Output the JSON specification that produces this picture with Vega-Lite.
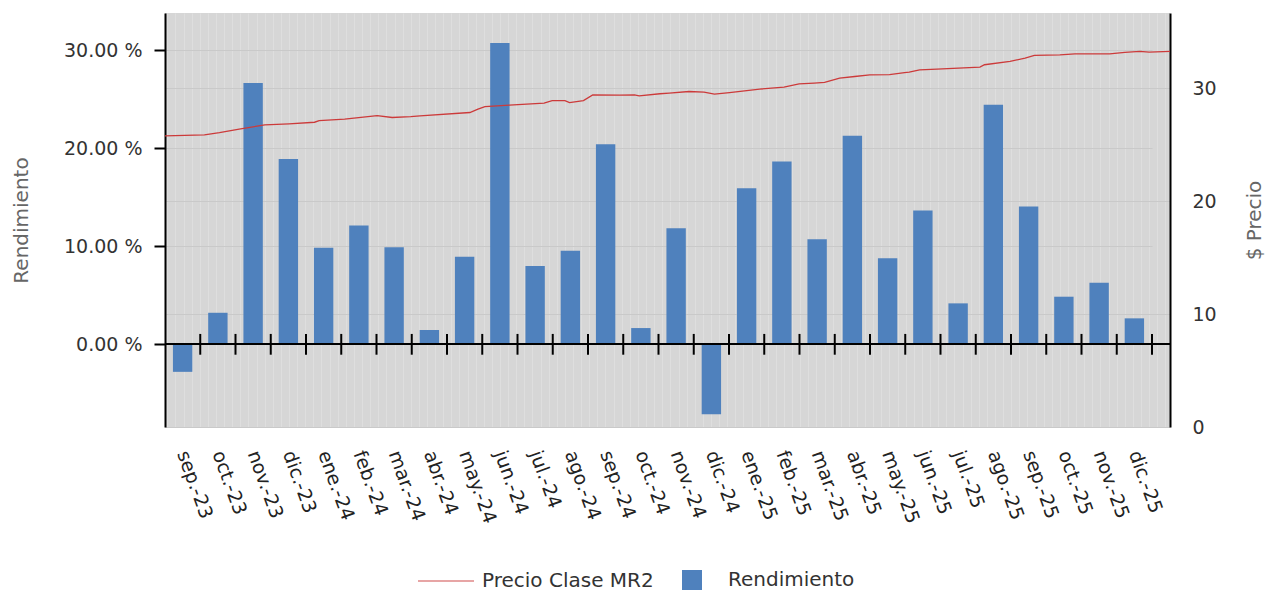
{
  "$schema": "https://vega.github.io/schema/vega-lite/v6.json",
  "width": 1005,
  "height": 414,
  "autosize": {"type": "none"},
  "padding": {"left": 165, "top": 13, "right": 98, "bottom": 164},
  "background": "white",
  "config": {
    "font": "DejaVu Sans",
    "view": {"fill": "#d6d6d6", "stroke": null}
  },
  "datasets": {
    "rend": [
      {"mes": "sep.-23", "rend": -0.0283},
      {"mes": "oct.-23", "rend": 0.032},
      {"mes": "nov.-23", "rend": 0.2665},
      {"mes": "dic.-23", "rend": 0.189},
      {"mes": "ene.-24", "rend": 0.0985},
      {"mes": "feb.-24", "rend": 0.121},
      {"mes": "mar.-24", "rend": 0.099},
      {"mes": "abr.-24", "rend": 0.0143},
      {"mes": "may.-24", "rend": 0.0893},
      {"mes": "jun.-24", "rend": 0.3075},
      {"mes": "jul.-24", "rend": 0.0798},
      {"mes": "ago.-24", "rend": 0.0954},
      {"mes": "sep.-24", "rend": 0.204},
      {"mes": "oct.-24", "rend": 0.0164},
      {"mes": "nov.-24", "rend": 0.1183},
      {"mes": "dic.-24", "rend": -0.0716},
      {"mes": "ene.-25", "rend": 0.1592},
      {"mes": "feb.-25", "rend": 0.1864},
      {"mes": "mar.-25", "rend": 0.107},
      {"mes": "abr.-25", "rend": 0.2127},
      {"mes": "may.-25", "rend": 0.0876},
      {"mes": "jun.-25", "rend": 0.1363},
      {"mes": "jul.-25", "rend": 0.0416},
      {"mes": "ago.-25", "rend": 0.2444},
      {"mes": "sep.-25", "rend": 0.1404},
      {"mes": "oct.-25", "rend": 0.0484},
      {"mes": "nov.-25", "rend": 0.0627},
      {"mes": "dic.-25", "rend": 0.0263}
    ],
    "precio": [
      {"fecha": "2023-09-01", "precio": 25.77},
      {"fecha": "2023-10-05", "precio": 25.86},
      {"fecha": "2023-10-18", "precio": 26.06},
      {"fecha": "2023-11-04", "precio": 26.37},
      {"fecha": "2023-11-26", "precio": 26.75},
      {"fecha": "2023-12-17", "precio": 26.84},
      {"fecha": "2024-01-08", "precio": 26.98},
      {"fecha": "2024-01-12", "precio": 27.13},
      {"fecha": "2024-02-03", "precio": 27.25},
      {"fecha": "2024-03-02", "precio": 27.57},
      {"fecha": "2024-03-15", "precio": 27.40},
      {"fecha": "2024-03-31", "precio": 27.48},
      {"fecha": "2024-04-08", "precio": 27.55},
      {"fecha": "2024-05-21", "precio": 27.84},
      {"fecha": "2024-05-28", "precio": 28.14},
      {"fecha": "2024-06-03", "precio": 28.37},
      {"fecha": "2024-06-24", "precio": 28.49},
      {"fecha": "2024-07-24", "precio": 28.67},
      {"fecha": "2024-07-31", "precio": 28.90},
      {"fecha": "2024-08-11", "precio": 28.90},
      {"fecha": "2024-08-15", "precio": 28.72},
      {"fecha": "2024-08-21", "precio": 28.81},
      {"fecha": "2024-08-27", "precio": 28.90},
      {"fecha": "2024-09-04", "precio": 29.40},
      {"fecha": "2024-09-27", "precio": 29.38},
      {"fecha": "2024-10-10", "precio": 29.40},
      {"fecha": "2024-10-14", "precio": 29.32},
      {"fecha": "2024-11-01", "precio": 29.50},
      {"fecha": "2024-11-09", "precio": 29.56},
      {"fecha": "2024-11-26", "precio": 29.70},
      {"fecha": "2024-12-09", "precio": 29.64},
      {"fecha": "2024-12-18", "precio": 29.47},
      {"fecha": "2024-12-31", "precio": 29.61},
      {"fecha": "2025-01-26", "precio": 29.91},
      {"fecha": "2025-02-16", "precio": 30.09},
      {"fecha": "2025-03-01", "precio": 30.38},
      {"fecha": "2025-03-14", "precio": 30.44},
      {"fecha": "2025-03-23", "precio": 30.50},
      {"fecha": "2025-04-05", "precio": 30.89},
      {"fecha": "2025-04-18", "precio": 31.03},
      {"fecha": "2025-05-01", "precio": 31.18},
      {"fecha": "2025-05-18", "precio": 31.20},
      {"fecha": "2025-05-31", "precio": 31.38},
      {"fecha": "2025-06-04", "precio": 31.42},
      {"fecha": "2025-06-13", "precio": 31.62},
      {"fecha": "2025-06-28", "precio": 31.68},
      {"fecha": "2025-08-04", "precio": 31.86},
      {"fecha": "2025-08-08", "precio": 32.07},
      {"fecha": "2025-08-30", "precio": 32.36},
      {"fecha": "2025-09-12", "precio": 32.66},
      {"fecha": "2025-09-20", "precio": 32.89},
      {"fecha": "2025-10-12", "precio": 32.95},
      {"fecha": "2025-10-25", "precio": 33.04},
      {"fecha": "2025-11-24", "precio": 33.04},
      {"fecha": "2025-12-07", "precio": 33.16},
      {"fecha": "2025-12-20", "precio": 33.25},
      {"fecha": "2025-12-28", "precio": 33.19},
      {"fecha": "2026-01-15", "precio": 33.25}
    ]
  },
  "layer": [
    {
      "data": {"name": "rend"},
      "layer": [
        {
          "mark": {"type": "bar", "width": {"band": 0.55}},
          "encoding": {
            "x": {
              "field": "mes", "type": "ordinal", "sort": null,
              "scale": {"range": [0, 987], "paddingInner": 0, "paddingOuter": 0},
              "axis": {
                "title": null, "domain": false, "ticks": false, "tickSize": 0, "grid": false,
                "labelAngle": 70, "labelAlign": "left", "labelBaseline": "middle",
                "labelPadding": 24, "labelFontSize": 19, "labelColor": "#222"
              }
            },
            "y": {
              "field": "rend", "type": "quantitative",
              "scale": {"domain": [-0.0846, 0.338], "nice": false, "zero": false},
              "axis": {
                "title": "Rendimiento", "values": [0, 0.1, 0.2, 0.3],
                "labelExpr": "format(datum.value*100, '.2f') + ' %'",
                "domain": true, "domainColor": "#000000", "domainWidth": 2,
                "ticks": true, "tickColor": "#000000", "tickSize": 11, "tickWidth": 2,
                "labelPadding": 12, "labelFontSize": 19, "labelColor": "#333333",
                "titleFontSize": 20, "titleColor": "#666666", "titleFontWeight": "normal", "titlePadding": 32,
                "grid": true, "gridColor": "#c9c9c9", "gridWidth": 1
              }
            },
            "color": {
              "datum": "Rendimiento",
              "scale": {"range": ["#4f81bd"]},
              "legend": {
                "orient": "none", "legendX": 517, "legendY": 557, "title": null,
                "symbolType": "square", "symbolSize": 400, "symbolStrokeWidth": 0,
                "labelFontSize": 20, "labelColor": "#333333", "labelOffset": 26, "padding": 0, "labelLimit": 400
              }
            }
          }
        },
        {
          "mark": {"type": "rule", "color": "#000000", "strokeWidth": 2},
          "encoding": {
            "x": {"field": "mes", "type": "ordinal", "sort": null, "bandPosition": 1},
            "y": {"datum": -0.0108},
            "y2": {"datum": 0.0104}
          }
        },
        {
          "mark": {"type": "rule", "color": "#000000", "strokeWidth": 2},
          "encoding": {
            "y": {"datum": 0}
          }
        }
      ]
    },
    {
      "data": {"name": "precio"},
      "mark": {"type": "line", "strokeWidth": 1.3},
      "encoding": {
        "x": {
          "field": "fecha", "type": "temporal",
          "scale": {"domain": [{"year": 2023, "month": 9, "date": 1, "utc": true}, {"year": 2026, "month": 1, "date": 15, "utc": true}]},
          "axis": {
            "orient": "top", "title": null, "labels": false, "ticks": false, "domain": false,
            "grid": true, "gridColor": "#dedede", "gridWidth": 1,
            "tickCount": {"interval": "week", "step": 1}
          }
        },
        "y": {
          "field": "precio", "type": "quantitative",
          "scale": {"domain": [0, 36.65], "nice": false, "zero": false},
          "axis": {
            "orient": "right", "title": "$ Precio", "values": [0, 10, 20, 30],
            "domain": true, "domainColor": "#000000", "domainWidth": 2,
            "ticks": false, "tickSize": 0,
            "labelPadding": 22, "labelFontSize": 19, "labelColor": "#333333",
            "titleFontSize": 20, "titleColor": "#666666", "titleFontWeight": "normal",
            "titleAngle": 270, "titleBaseline": "top", "titlePadding": 28,
            "grid": true, "gridColor": "#c9c9c9", "gridWidth": 1
          }
        },
        "color": {
          "datum": "Precio Clase MR2",
          "scale": {"range": ["#cc3a3a"]},
          "legend": {
            "orient": "none", "legendX": 252, "legendY": 539, "title": null,
            "symbolType": "stroke", "symbolSize": 3136, "symbolStrokeWidth": 2, "symbolOpacity": 0.45,
            "labelFontSize": 20, "labelColor": "#333333", "labelOffset": 7, "padding": 0, "labelLimit": 400
          }
        }
      }
    }
  ],
  "resolve": {
    "scale": {"x": "independent", "y": "independent", "color": "independent"},
    "axis": {"x": "independent", "y": "independent"},
    "legend": {"color": "independent"}
  }
}
